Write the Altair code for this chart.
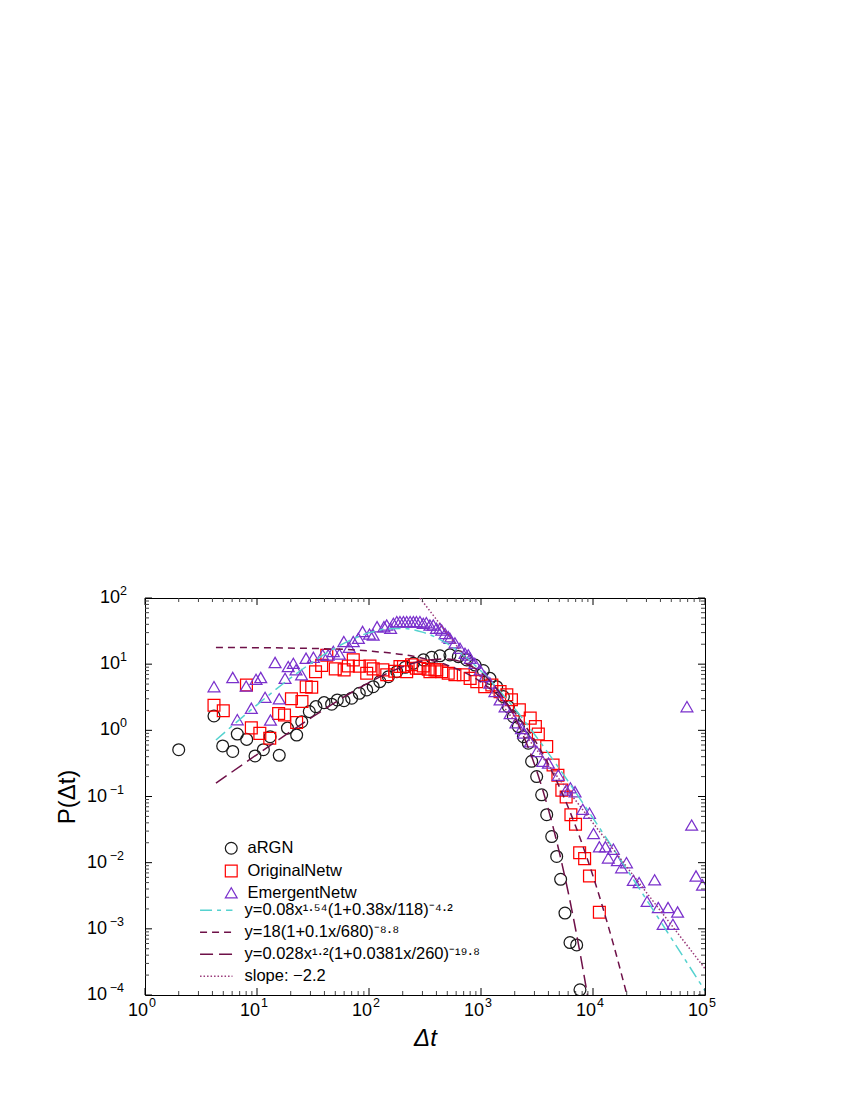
import altair as alt
import pandas as pd

# ---------------- data ----------------
argn_x = [2, 4.13, 4.94, 6.07, 6.67, 8.09, 9.6, 11.4, 13.1, 15.8, 18.7, 22.6, 25.1, 29.3, 33.6,
          39.7, 46.4, 52.1, 59.8, 70, 81.9, 95.4, 109, 125, 149, 177, 210, 249, 306, 363,
          430, 528, 627, 745, 884, 1048, 1202, 1380, 1585, 1755, 1945, 2155, 2390, 2645, 2833,
          3140, 3480, 3860, 4280, 4740, 5140, 5620, 6230, 7150, 7650]
argn_y = [0.51, 1.65, 0.58, 0.48, 0.88, 0.73, 0.41, 0.51, 0.80, 0.42, 1.08, 0.85, 1.35, 1.92, 2.28,
          2.62, 2.48, 2.88, 2.81, 3.06, 3.63, 4.07, 4.57, 5.45, 6.47, 7.7, 8.98, 10.3, 11.6, 12.7,
          13.4, 13.8, 13.0, 11.6, 9.7, 8.0, 6.1, 4.57, 3.24, 2.28, 1.61, 1.14, 0.80, 0.64, 0.34,
          0.20, 0.106, 0.053, 0.0248, 0.0124, 0.0056, 0.00173, 0.00062, 0.00057, 0.00012]

orig_x = [4.13, 5.0, 8.05, 8.9, 10.6, 13.0, 15.6, 17.6, 20.3, 22.6, 25.2, 27.5, 30.8, 33.3, 37.8,
          42, 50, 60, 65.4, 72.4, 82, 95.4, 102, 109, 133, 144, 170, 189, 203, 217,
          240, 265, 285, 305, 338, 350, 388, 403, 446, 510, 585, 695, 800, 917, 1080,
          1250, 1480, 1700, 1870, 2200, 2750, 3060, 3250, 3860, 4400, 4860, 5270, 5760, 6350, 6980,
          7600, 8420, 9300, 11400]
orig_y = [2.4, 1.98, 4.85, 1.09, 0.90, 0.76, 1.8, 1.71, 3.0, 1.31, 2.72, 4.57, 4.47, 7.7, 9.6,
          13.6, 8.5, 8.2, 9.4, 11.6, 9.3, 7.3, 9.4, 8.5, 8.2, 6.9, 7.8, 9.2, 9.2, 7.7,
          9.8, 8.7, 8.7, 9.4, 8.4, 7.7, 8.2, 8.2, 7.7, 7.3, 6.9, 6.9, 6.1, 5.45, 4.57,
          4.85, 3.85, 3.45, 2.9, 2.04, 1.53, 1.14, 0.88, 0.57, 0.30, 0.21, 0.125, 0.098, 0.053, 0.038,
          0.0141, 0.0115, 0.0063, 0.00178]

emer_x = [4.13, 6.07, 6.67, 8.0, 8.9, 9.8, 10.8, 11.8, 13.2, 14.5, 15.8, 17.8, 19.0, 21.1, 22.3,
          25, 27.4, 31.9, 38.6, 43.2, 48, 54.4, 59.6, 66.6, 72.4, 80.4, 87.6, 101, 109, 118,
          136, 144, 156, 165, 177, 189, 203, 217, 233, 249, 265, 285, 305, 325, 350,
          375, 400, 430, 446, 478, 510, 528, 585, 650, 720, 770, 800, 880, 980, 1080,
          1200, 1330, 1480, 1640, 1820, 2050, 2300, 2400, 2750, 3150, 3560, 4000, 4900, 5760, 6280,
          6910, 8100, 9300, 10100, 11400, 12900, 13700, 15200, 16500, 18000, 19900, 22900, 25800, 30400, 35500,
          38300, 42300, 46800, 51700, 56900, 69000, 76000, 83100, 95000]
emer_y = [4.57, 6.3, 1.45, 4.66, 2.16, 5.9, 6.3, 3.15, 1.43, 10.6, 3.0, 6.1, 9.2, 10.3, 8.2,
          6.9, 12.3, 12.7, 13.8, 13.8, 15.6, 14.2, 22, 18, 22, 24.6, 31.2, 28.5, 27.6, 36.8,
          36.8, 39, 34.8, 41.4, 43.9, 43.9, 43.9, 43.9, 43.9, 43.9, 43.9, 43.9, 41.4, 42.4, 39,
          39, 34.8, 34.8, 32.8, 29, 26, 24.6, 21, 17.4, 14.6, 13.8, 12.3, 10.3, 8.2, 6.5,
          5.2, 3.85, 2.9, 2.28, 1.8, 1.3, 1.07, 0.91, 0.67, 0.48, 0.34, 0.32, 0.21, 0.125, 0.135,
          0.118, 0.064, 0.056, 0.0275, 0.0174, 0.0174, 0.0118, 0.016, 0.0108, 0.0084, 0.0100, 0.0054, 0.0050, 0.0026, 0.0055,
          0.0021, 0.00117, 0.0021, 0.00117, 0.0018, 2.28, 0.037, 0.0063, 0.0046]

# fitted curves
fit1_x = [4.3, 10, 20, 30, 50, 100, 150, 200, 300, 500, 700, 1000, 2000, 3000, 5000, 10000, 20000, 50000, 100000]
fit1_y = [0.713, 2.43, 6.21, 10.2, 17.6, 29.8, 34.3, 34.7, 30.5, 20.4, 13.6, 7.87, 2.12, 0.873, 0.264, 0.0471, 0.00796, 0.000723, 0.000116]
fit2_x = [4.3, 30, 100, 300, 500, 1000, 2000, 3000, 5000, 7000, 10000, 15000, 20300]
fit2_y = [17.9, 17.3, 15.8, 12.3, 9.64, 5.38, 1.86, 0.722, 0.141, 0.0355, 0.0063, 0.000635, 0.000094]
fit3_x = [4.3, 10, 30, 50, 100, 200, 300, 500, 700, 1000, 1500, 2000, 3000, 4000, 5000, 6000, 7000, 8000, 9000]
fit3_y = [0.159, 0.431, 1.52, 2.65, 5.27, 9.12, 11.2, 12.0, 10.5, 7.44, 3.55, 1.58, 0.306, 0.0634, 0.0144, 0.0036, 0.000977, 0.000288, 0.000091]
fit4_x = [285, 100000]
fit4_y = [100, 0.00025]

series_names = ["aRGN", "OriginalNetw", "EmergentNetw"]
series_colors = ["#1a1a1a", "#ff0000", "#7a30cc"]
series_shapes = ["circle", "square", "triangle-up"]

fit_names = ["y=0.08x¹·⁵⁴(1+0.38x/118)⁻⁴·²",
             "y=18(1+0.1x/680)⁻⁸·⁸",
             "\u00a0y=0.028x¹·²(1+0.0381x/260)⁻¹⁹·⁸",
             "slope: −2.2"]
fit_colors = ["#55d2cf", "#6e1048", "#6e1048", "#9a3a7a"]
fit_dashes = [[12, 5, 4, 5], [7, 5], [13, 6], [1.5, 2]]

x_tick_values = [1, 10, 100, 1000, 10000, 100000]
x_tick_exps = ["0", "1", "2", "3", "4", "5"]
y_tick_values_neg = [1e-4, 1e-3, 1e-2, 1e-1]
y_tick_exps_neg = ["−4", "−3", "−2", "−1"]
y_tick_values_pos = [1, 10, 100]
y_tick_exps_pos = ["0", "1", "2"]
minor_multipliers = [2, 3, 4, 5, 6, 7, 8, 9]

# ---------------- tables ----------------
pts = pd.concat([
    pd.DataFrame({"x": argn_x, "y": argn_y, "series": series_names[0]}),
    pd.DataFrame({"x": orig_x, "y": orig_y, "series": series_names[1]}),
    pd.DataFrame({"x": emer_x, "y": emer_y, "series": series_names[2]}),
], ignore_index=True)

fits = pd.concat([
    pd.DataFrame({"x": fx, "y": fy, "fit": nm})
    for fx, fy, nm in zip([fit1_x, fit2_x, fit3_x, fit4_x], [fit1_y, fit2_y, fit3_y, fit4_y], fit_names)
], ignore_index=True)

x_minor = [m * 10 ** d for d in range(0, 5) for m in minor_multipliers]
y_minor = [m * 10.0 ** d for d in range(-4, 2) for m in minor_multipliers]
xmaj_df = pd.DataFrame({"v": x_tick_values, "e": x_tick_exps})
xmin_df = pd.DataFrame({"v": x_minor})
yneg_df = pd.DataFrame({"v": y_tick_values_neg, "e": y_tick_exps_neg})
ypos_df = pd.DataFrame({"v": y_tick_values_pos, "e": y_tick_exps_pos})
ymaj_df = pd.concat([yneg_df, ypos_df], ignore_index=True)
ymin_df = pd.DataFrame({"v": y_minor})

W, H = 560, 397
FONT = "Liberation Sans"

x_scale = alt.Scale(type="log", domain=[1, 1e5], nice=False)
y_scale = alt.Scale(type="log", domain=[1e-4, 1e2], nice=False)

x_axis = alt.Axis(values=x_tick_values, labels=False,
                  title="Δt", titleFontSize=24, titleFontStyle="italic", titleFontWeight="normal",
                  titleFont=FONT, titleX=W / 2, titleY=50, titleBaseline="alphabetic", titleAlign="center")
y_axis = alt.Axis(values=[1e-4, 1e-3, 1e-2, 1e-1, 1, 10, 100], labels=False,
                  title="P(Δt)", titleFontSize=24, titleFontWeight="normal", titleFont=FONT,
                  titleAngle=270, titleX=-71, titleY=H / 2, titleBaseline="alphabetic", titleAlign="center")

X = alt.X("x:Q", scale=x_scale, axis=x_axis)
Y = alt.Y("y:Q", scale=y_scale, axis=y_axis)
XV = alt.X("v:Q", scale=x_scale, axis=x_axis)
YV = alt.Y("v:Q", scale=y_scale, axis=y_axis)

sym_legend = alt.Legend(orient="none", legendX=78, legendY=242, title=None, padding=0,
                        labelFont=FONT, labelFontSize=16.5, labelColor="black", labelOffset=8,
                        rowPadding=4.8, symbolSize=150, symbolStrokeWidth=1.2, labelLimit=400)

points = alt.Chart(pts).mark_point(filled=False, strokeWidth=1.25, opacity=1, clip=True).encode(
    x=X, y=Y,
    color=alt.Color("series:N", scale=alt.Scale(domain=series_names, range=series_colors),
                    sort=series_names, legend=sym_legend),
    shape=alt.Shape("series:N", scale=alt.Scale(domain=series_names, range=series_shapes),
                    sort=series_names, legend=sym_legend),
    size=alt.Size("series:N", scale=alt.Scale(domain=series_names, range=[140, 140, 180]),
                  sort=series_names, legend=sym_legend),
)

line_legend = alt.Legend(orient="none", legendX=63, legendY=304, title=None, padding=0,
                         labelFont=FONT, labelFontSize=16.5, labelColor="black", labelOffset=20,
                         rowPadding=5.0, symbolType="M-2.7,0H2.7", symbolSize=144,
                         symbolStrokeWidth=1.5, labelLimit=500)

lines = alt.Chart(fits).mark_line(strokeWidth=1.5, clip=True, interpolate="monotone").encode(
    x=X, y=Y,
    color=alt.Color("fit:N", scale=alt.Scale(domain=fit_names, range=fit_colors),
                    sort=fit_names, legend=line_legend),
    strokeDash=alt.StrokeDash("fit:N", scale=alt.Scale(domain=fit_names, range=fit_dashes),
                              sort=fit_names, legend=line_legend),
)


def xticks(df, length, color):
    bottom = alt.Chart(df).mark_rule(color=color, strokeWidth=1).encode(
        x=XV, y=alt.value(H), y2=alt.value(H - length))
    top = alt.Chart(df).mark_rule(color=color, strokeWidth=1).encode(
        x=XV, y=alt.value(0), y2=alt.value(length))
    return [bottom, top]


def yticks(df, length, color):
    left = alt.Chart(df).mark_rule(color=color, strokeWidth=1).encode(
        y=YV, x=alt.value(0), x2=alt.value(length))
    right = alt.Chart(df).mark_rule(color=color, strokeWidth=1).encode(
        y=YV, x=alt.value(W), x2=alt.value(W - length))
    return [left, right]


tick_layers = (xticks(xmaj_df, 7, "black") + xticks(xmin_df, 4, "#444444")
               + yticks(ymaj_df, 7, "black") + yticks(ymin_df, 4, "#444444"))

# tick labels: "10" with a raised, smaller exponent
BASE = dict(font=FONT, fontSize=18, color="black", baseline="middle")
EXP = dict(font=FONT, fontSize=12.5, color="black", baseline="middle")

x_base = alt.Chart(xmaj_df).mark_text(text="10", align="right", dx=3, **BASE).encode(
    x=XV, y=alt.value(H + 16))
x_exp = alt.Chart(xmaj_df).mark_text(align="left", dx=4, **EXP).encode(
    x=XV, y=alt.value(H + 8), text="e:N")
yp_base = alt.Chart(ypos_df).mark_text(text="10", align="right", dx=-25, **BASE).encode(
    y=YV, x=alt.value(0))
yp_exp = alt.Chart(ypos_df).mark_text(align="right", dx=-18, dy=-7, **EXP).encode(
    y=YV, x=alt.value(0), text="e:N")
yn_base = alt.Chart(yneg_df).mark_text(text="10", align="right", dx=-38, **BASE).encode(
    y=YV, x=alt.value(0))
yn_exp = alt.Chart(yneg_df).mark_text(align="right", dx=-21, dy=-7, **EXP).encode(
    y=YV, x=alt.value(0), text="e:N")

chart = alt.layer(points, lines, *tick_layers, x_base, x_exp, yp_base, yp_exp, yn_base, yn_exp).resolve_scale(
    color="independent", shape="independent", strokeDash="independent", size="independent"
).properties(
    width=W, height=H,
    autosize=alt.AutoSizeParams(type="none"),
    padding={"left": 137, "top": 590, "right": 20, "bottom": 80},
    background="white",
).configure_view(
    stroke="black", strokeWidth=1
).configure_axis(
    domain=False, ticks=False, tickSize=0, grid=False,
)

chart.save("out.html", embed_options={"renderer": "svg", "actions": False})
